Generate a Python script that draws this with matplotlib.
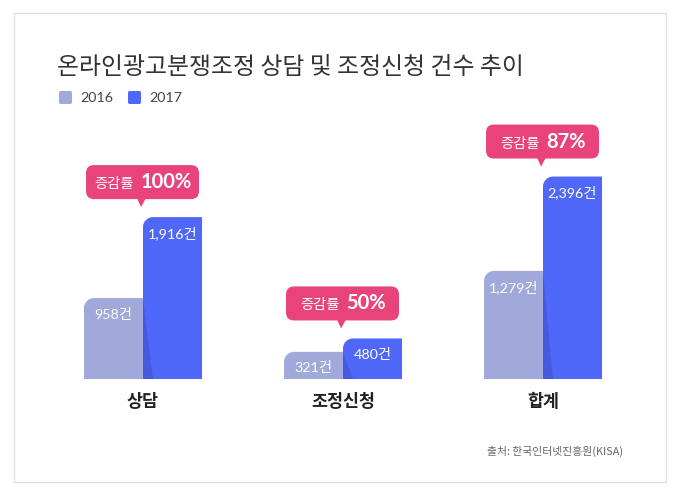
import matplotlib
matplotlib.use('Agg')
import matplotlib.pyplot as plt
from matplotlib.patches import PathPatch, FancyBboxPatch, Polygon, Rectangle
from matplotlib.path import Path
import matplotlib.transforms as mtransforms
from matplotlib.offsetbox import TextArea, HPacker, AnnotationBbox

# ---------------- data ----------------
categories = ['상담', '조정신청', '합계']
series_names = ['2016', '2017']
values_2016 = [958, 321, 1279]
values_2017 = [1916, 480, 2396]
labels_2016 = ['958건', '321건', '1,279건']
labels_2017 = ['1,916건', '480건', '2,396건']
growth = ['100%', '50%', '87%']
title = '온라인광고분쟁조정 상담 및 조정신청 건수 추이'
source = '출처: 한국인터넷진흥원(KISA)'

# ---------------- style ----------------
C16 = '#a0a9da'
C17 = '#5068fa'
CSHADOW = '#4659dc'
CPINK = '#e8447b'
KFONT = ['Lato', 'Noto Sans CJK KR', 'DejaVu Sans']
TFONT = ['Noto Sans CJK KR', 'DejaVu Sans']

W, H = 680, 498
DPI = 100
fig = plt.figure(figsize=(W / DPI, H / DPI), dpi=DPI)
fig.patch.set_facecolor('white')

# card border
fig.add_artist(Rectangle((14 / W, 1 - 482 / H), 652 / W, 469 / H, transform=fig.transFigure,
                         fill=False, ec='#e2e2e2', lw=1.0))

ax = fig.add_axes([43 / W, 119 / H, 600 / W, 253.5 / H])
ax.set_xlim(-0.5, 2.5)
ax.set_ylim(0, 3000)
ax.axis('off')

x = list(range(len(categories)))
bw = 0.295
b16 = ax.bar([i - bw / 2 for i in x], values_2016, width=bw, color=C16)
b17 = ax.bar([i + bw / 2 for i in x], values_2017, width=bw, color=C17)

# radius of rounded corner in data units (10 px)
rx = 10 / 200.0
ry = 10 / (253.5 / 3000)
K = 0.5523


def rounded_bar(rect, color, z):
    x0 = rect.get_x()
    x1 = x0 + rect.get_width()
    h = rect.get_height()
    r_y = min(ry, h)
    verts = [(x0, 0), (x1, 0), (x1, h), (x0 + rx, h),
             (x0 + rx * (1 - K), h), (x0, h - r_y * (1 - K)), (x0, h - r_y),
             (x0, 0)]
    codes = [Path.MOVETO, Path.LINETO, Path.LINETO, Path.LINETO,
             Path.CURVE4, Path.CURVE4, Path.CURVE4, Path.CLOSEPOLY]
    ax.add_patch(PathPatch(Path(verts, codes), fc=color, ec='none', zorder=z))
    rect.remove()
    return x0, x1, h


geo16 = [rounded_bar(r, C16, 2) for r in b16]
geo17 = [rounded_bar(r, C17, 2) for r in b17]

# shadow wedges from 2016 bar onto 2017 bar
for (x0, x1, h) in geo16:
    ax.add_patch(Polygon([(x1, h), (x1, 0), (x1 + 0.05, 0)], closed=True,
                         fc=CSHADOW, ec='none', zorder=3, alpha=0.9))

# value labels
for (x0, x1, h), lab in zip(geo16 + geo17, labels_2016 + labels_2017):
    ax.annotate(lab, xy=((x0 + x1) / 2, h), xytext=(0, -16), textcoords='offset pixels',
                ha='center', va='center', color='white', fontsize=10.3,
                family=KFONT, zorder=5)

# category labels
for i, cat in zip(x, categories):
    ax.annotate(cat, xy=(i, 0), xytext=(0, -23), textcoords='offset pixels',
                ha='center', va='center', color='#222222', fontsize=12.5,
                fontweight='bold', family=TFONT)

# callouts
for i, v, g in zip(x, values_2017, growth):
    trans = mtransforms.Affine2D() + mtransforms.ScaledTranslation(i, v, ax.transData)
    ax.add_patch(FancyBboxPatch((-57, 18), 113, 34,
                                boxstyle='round,pad=0,rounding_size=8',
                                transform=trans, fc=CPINK, ec='none', clip_on=False, zorder=6))
    ax.add_patch(Polygon([(-6, 19), (3, 19), (-2, 10)], closed=True, transform=trans,
                         fc=CPINK, ec='none', clip_on=False, zorder=6))
    t1 = TextArea('증감률', textprops=dict(color='white', fontsize=10.3, family=TFONT))
    t2 = TextArea(g, textprops=dict(color='white', fontsize=14.5, fontweight='bold', family=KFONT))
    pack = HPacker(children=[t1, t2], sep=5, pad=0, align='baseline')
    ab = AnnotationBbox(pack, (i, v), xybox=(0, 35), xycoords='data',
                        boxcoords='offset pixels', box_alignment=(0.5, 0.5),
                        frameon=False, pad=0, zorder=7, annotation_clip=False)
    ax.add_artist(ab)

# title
fig.text(57 / W, 1 - 67 / H, title, fontsize=17.2, family=TFONT, color='#333333',
         ha='left', va='center')

# legend
lx = [59, 128]
for lxi, name, col in zip(lx, series_names, [C16, C17]):
    fig.add_artist(FancyBboxPatch((lxi / W, 1 - 104 / H), 13 / W, 13 / H,
                                  boxstyle='round,pad=0,rounding_size=0.003',
                                  transform=fig.transFigure, fc=col, ec='none'))
    fig.text((lxi + 21) / W, 1 - 97.5 / H, name, fontsize=10.3, family=KFONT,
             color='#444444', ha='left', va='center')

# source
fig.text(623 / W, 1 - 451 / H, source, fontsize=7.8, family=TFONT, color='#666666',
         ha='right', va='center')

fig.savefig('out.png', dpi=DPI, facecolor='white')
